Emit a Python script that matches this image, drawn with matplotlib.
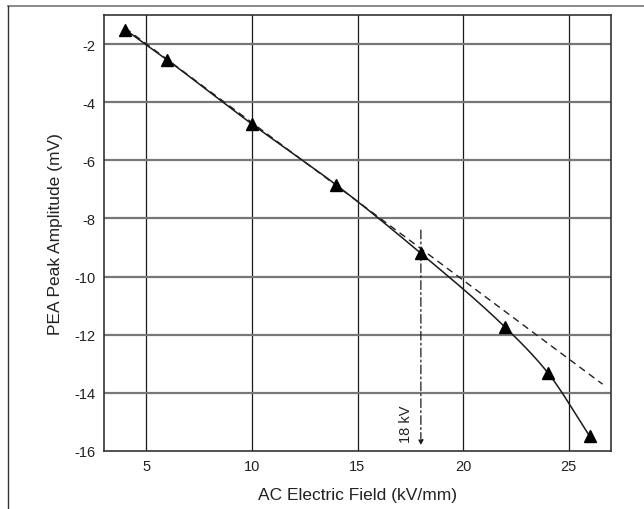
import numpy as np
import matplotlib
matplotlib.use("Agg")
import matplotlib.pyplot as plt
from matplotlib.lines import Line2D

plt.rcParams['font.family'] = ['Liberation Sans', 'DejaVu Sans']
plt.rcParams['axes.unicode_minus'] = False

# Data
field = [4, 6, 10, 14, 18, 22, 24, 26]
amplitude = [-1.5, -2.55, -4.75, -6.85, -9.2, -11.75, -13.3, -15.5]
fit_x = [4, 26.6]
fit_y = [-1.45, -13.7]
marker_x = 18
marker_y = [-8.4, -15.8]
xticks = [5, 10, 15, 20, 25]
yticks = [-2, -4, -6, -8, -10, -12, -14, -16]


def pchip(x, y, n=400):
    x = np.asarray(x, float); y = np.asarray(y, float)
    h = np.diff(x); d = np.diff(y) / h
    m = np.zeros_like(y)
    for i in range(1, len(x) - 1):
        if d[i - 1] * d[i] > 0:
            w1 = 2 * h[i] + h[i - 1]; w2 = h[i] + 2 * h[i - 1]
            m[i] = (w1 + w2) / (w1 / d[i - 1] + w2 / d[i])
    m[0] = d[0]; m[-1] = d[-1]
    xs = np.linspace(x[0], x[-1], n); ys = np.empty_like(xs)
    for k, xv in enumerate(xs):
        i = int(np.clip(np.searchsorted(x, xv) - 1, 0, len(x) - 2))
        t = (xv - x[i]) / h[i]
        h00 = 2 * t**3 - 3 * t**2 + 1; h10 = t**3 - 2 * t**2 + t
        h01 = -2 * t**3 + 3 * t**2; h11 = t**3 - t**2
        ys[k] = h00 * y[i] + h10 * h[i] * m[i] + h01 * y[i + 1] + h11 * h[i] * m[i + 1]
    return xs, ys


fig = plt.figure(figsize=(6.44, 5.10), dpi=100)
ax = fig.add_axes([104 / 644, 1 - 452 / 510, (611 - 104) / 644, (452 - 16) / 510])

ax.set_xlim(3, 27)
ax.set_ylim(-16, -1)
ax.set_xticks(xticks)
ax.set_yticks(yticks)
ax.tick_params(length=0, labelsize=10.5, pad=6, colors='#222222')

for xv in xticks:
    ax.axvline(xv, color='#1a1a1a', lw=0.9, zorder=1)
for yv in yticks[:-1]:
    ax.axhline(yv, color='#777777', lw=1.6, zorder=1)

for s in ax.spines.values():
    s.set_color('#333333'); s.set_linewidth(1.2)

sx, sy = pchip(field, amplitude)
ax.plot(sx, sy, color='#1a1a1a', lw=1.1, zorder=3)
ax.plot(fit_x, fit_y, color='#222222', lw=1.0, ls=(0, (5, 3.5)), zorder=3)
ax.plot(field, amplitude, ls='none', marker='^', ms=9, color='black', zorder=4)

ax.annotate('', xy=(marker_x, marker_y[1]), xytext=(marker_x, marker_y[0]),
            arrowprops=dict(arrowstyle='-|>', color='#1a1a1a', lw=0.9,
                            linestyle=(0, (7, 2.5, 1.5, 2.5)), mutation_scale=7,
                            shrinkA=0, shrinkB=0), zorder=3)
ax.text(17.3, -15.7, '18 kV', rotation=90, ha='center', va='bottom',
        fontsize=10.5, color='#222222')

ax.set_xlabel('AC Electric Field (kV/mm)', fontsize=12.5, color='#222222', labelpad=10)
ax.set_ylabel('PEA Peak Amplitude (mV)', fontsize=12.5, color='#222222', labelpad=8)

fig.add_artist(Line2D([8 / 644, 1], [1 - 7 / 510, 1 - 7 / 510], color='#777777', lw=1.2,
                      transform=fig.transFigure))
fig.add_artist(Line2D([8 / 644, 8 / 644], [0, 1 - 7 / 510], color='#333333', lw=1.0,
                      transform=fig.transFigure))

fig.savefig('out.png', dpi=100)
